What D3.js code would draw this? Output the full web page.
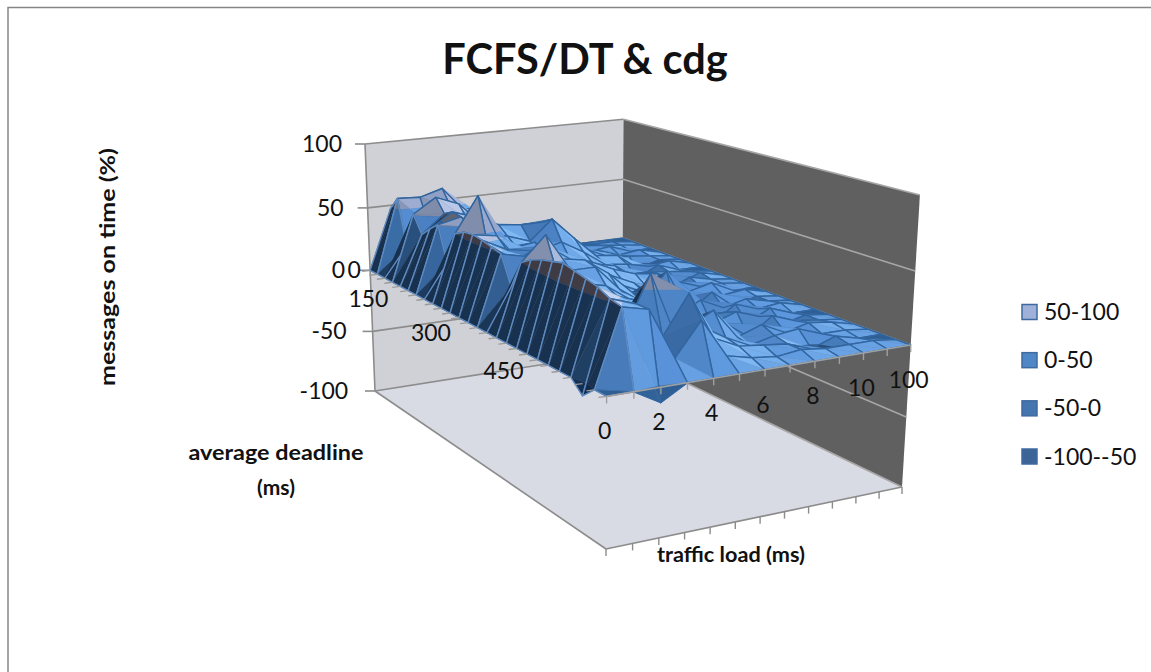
<!DOCTYPE html>
<html>
<head>
<meta charset="utf-8">
<script src="https://cdn.jsdelivr.net/npm/d3@7"></script>
<style>
  html, body { margin: 0; padding: 0; background: #fff; }
  text { font-family: Lato, "Open Sans", sans-serif; fill: #111; }
</style>
</head>
<body>
<div id="main"></div>
<script>
var WIDTH = 1151, HEIGHT = 672;

var titleText = "FCFS/DT & cdg";
var zTicks = [100, 50, 0, -50, -100];
var trafficTicks = ["0", "", "2", "", "4", "", "6", "", "8", "", "10", "", "100"];
var deadlineTicks = ["0", "", "", "", "", "", "", "150", "", "", "", "", "", "", "300", "", "", "", "", "", "", "450", "", "", "", ""];
var bands = ["50-100", "0-50", "-50-0", "-100--50"];
var bandSwatch = ["#9fb1d8", "#4f86c6", "#4575ae", "#3d6496"];

// messages on time, one row per traffic load, one value per deadline
var load0  = [0,0,0,0,0,0,0,0,0,0,0,0,0,0,0,0,0,0,0,0,0,0,0,-8,0,0];
var load1  = [47,58,23,51,38,45,51,25,50,54,55,54,52,50,30,50,55,58,60,62,60,58,56,52,50,0];
var load2  = [40,57,38,62,52,56,55,50,76,40,52,45,40,46,48,67,45,42,44,46,34,20,25,46,46,-10];
var load3  = [30,62,50,55,46,50,40,42,35,38,30,42,48,50,45,40,34,28,30,34,30,32,60,22,12,0];
var load4  = [20,42,46,38,40,42,36,30,32,40,34,36,40,38,42,40,30,26,20,22,18,20,16,48,34,0];
var load5  = [12,30,28,30,32,40,30,26,24,30,28,32,26,28,30,22,18,20,16,10,14,16,20,16,8,0];
var load6  = [8,20,22,24,26,40,45,30,18,22,24,18,20,16,14,10,8,14,6,8,12,25,10,8,4,0];
var load7  = [4,10,14,18,22,24,28,20,14,12,16,10,12,8,10,30,2,-2,8,6,10,4,2,6,2,0];
var load8  = [2,6,8,12,10,14,12,8,10,6,10,4,-2,8,4,-2,10,-4,8,12,-2,10,6,4,4,0];
var load9  = [0,4,6,4,8,6,10,6,-2,6,8,-3,8,4,-4,10,2,8,-2,6,10,2,8,-2,2,0];
var load10 = [0,2,4,6,2,4,-3,2,6,4,-2,6,2,8,2,-3,6,2,6,-2,4,6,2,4,2,0];
var load11 = [0,2,2,0,4,2,2,4,0,2,4,2,2,0,4,2,2,4,0,2,2,4,2,0,2,0];
var load12 = [0,0,0,0,0,0,0,0,0,0,0,0,0,0,0,0,0,0,0,0,0,0,0,0,0,0];
var surface = [load0,load1,load2,load3,load4,load5,load6,load7,load8,load9,load10,load11,load12];

var uScale = d3.scaleLinear().domain([0, trafficTicks.length - 1]).range([0, 1]);
var vScale = d3.scaleLinear().domain([0, deadlineTicks.length - 1]).range([0, 1]);
var zScale = d3.scaleLinear().domain([-100, 100]).range([0, 1]);

// box corners; perspective terms fitted by hand
var P000 = [375, 391], P100 = [622, 352], P010 = [606, 549], P001 = [365, 144];
var PA = 0.0658, PB = -0.2278, PC = -0.045;
function basis(p, k){ return [(1 + k) * p[0] - P000[0], (1 + k) * p[1] - P000[1]]; }
var AX = basis(P100, PA), BX = basis(P010, PB), CX = basis(P001, PC);
function project(u, v, z){
  var w = 1 + PA * u + PB * v + PC * z;
  return [(P000[0] + AX[0] * u + BX[0] * v + CX[0] * z) / w,
          (P000[1] + AX[1] * u + BX[1] * v + CX[1] * z) / w];
}
function pathOf(pts){ return "M" + pts.map(function(p){ return p[0].toFixed(1) + "," + p[1].toFixed(1); }).join("L") + "Z"; }
function line(a, b){ return "M" + a[0].toFixed(1) + "," + a[1].toFixed(1) + "L" + b[0].toFixed(1) + "," + b[1].toFixed(1); }

var svg = d3.select("#main").append("svg").attr("width", WIDTH).attr("height", HEIGHT).style("display", "block");

// chart frame, only top and left show
svg.append("path").attr("d", "M1151,7.5H8V672").attr("fill", "none").attr("stroke", "#868686").attr("stroke-width", 1.5);

// walls and floor
svg.append("path").attr("d", pathOf([project(0,0,0), project(0,1,0), project(1,1,0), project(1,0,0)])).attr("fill", "#d8dae4");
svg.append("path").attr("d", pathOf([project(0,0,0), project(0,0,1), project(1,0,1), project(1,0,0)])).attr("fill", "#d0d1d6");
svg.append("path").attr("d", pathOf([project(1,0,0), project(1,0,1), project(1,1,1), project(1,1,0)])).attr("fill", "#606060");

zTicks.forEach(function(t){
  var z = zScale(t);
  svg.append("path").attr("d", line(project(0,0,z), project(1,0,z))).attr("stroke", "#8c8c8c").attr("stroke-width", 1.6).attr("fill", "none");
  svg.append("path").attr("d", line(project(1,0,z), project(1,1,z))).attr("stroke", "#a6a6a6").attr("stroke-width", 1.6).attr("fill", "none");
  var a = project(0,0,z);
  svg.append("path").attr("d", line([a[0] - 10, a[1]], a)).attr("stroke", "#8c8c8c").attr("stroke-width", 1.6);
  svg.append("text").attr("x", 342 + (a[1] - 144) * 0.025).attr("y", a[1] + 8).attr("text-anchor", "end").attr("font-size", 23).text(t);
});
svg.append("path").attr("d", line(project(0,0,0), project(0,0,1))).attr("stroke", "#8c8c8c").attr("stroke-width", 1.6);
svg.append("path").attr("d", line(project(0,0,0), project(0,1,0))).attr("stroke", "#8c8c8c").attr("stroke-width", 1.6);
svg.append("path").attr("d", line(project(0,1,0), project(1,1,0))).attr("stroke", "#8c8c8c").attr("stroke-width", 1.6);

// floor ticks under the traffic axis
trafficTicks.forEach(function(t, i){
  var a = project(uScale(i), 1, 0);
  svg.append("path").attr("d", line(a, [a[0], a[1] + 7])).attr("stroke", "#8c8c8c").attr("stroke-width", 1.4);
});

// surface
var TONE_STOPS = [-0.6, 0.05, 0.5, 0.95];
var ramps = [
  d3.scaleLinear().domain(TONE_STOPS).range(["#3f3b45", "#6a7284", "#8f9fc4", "#cad8f6"]).clamp(true),
  d3.scaleLinear().domain(TONE_STOPS).range(["#17314f", "#3a6ba5", "#5a94da", "#86bff8"]).clamp(true),
  d3.scaleLinear().domain(TONE_STOPS).range(["#10294a", "#1e4470", "#2f5f95", "#3a6ba5"]).clamp(true),
  d3.scaleLinear().domain(TONE_STOPS).range(["#0d2038", "#1f3f68", "#31588a", "#47709f"]).clamp(true)
];
var bandEdges = [[50, 100], [0, 50], [-50, 0], [-100, -50]];
var LIGHT = [0.72, 0.5, 0.48];

function toneOf(a, b, c){
  // a,b,c are [u,v,value]
  var ux = b[0]-a[0], uy = (b[1]-a[1])*0.85, uz = (b[2]-a[2])/120,
      vx = c[0]-a[0], vy = (c[1]-a[1])*0.85, vz = (c[2]-a[2])/120;
  var nx = uy*vz-uz*vy, ny = uz*vx-ux*vz, nz = ux*vy-uy*vx;
  if(nz < 0){ nx=-nx; ny=-ny; nz=-nz; }
  var len = Math.sqrt(nx*nx+ny*ny+nz*nz) || 1;
  return (nx*LIGHT[0]+ny*LIGHT[1]+nz*LIGHT[2])/len;
}
// keep the part of a polygon on one side of a value level
function clipLevel(poly, level, above){
  var out = [];
  poly.forEach(function(p, k){
    var q = poly[(k + 1) % poly.length];
    var pIn = above ? p[2] >= level : p[2] <= level;
    var qIn = above ? q[2] >= level : q[2] <= level;
    if(pIn) out.push(p);
    if(pIn !== qIn){
      var t = (level - p[2]) / (q[2] - p[2]);
      out.push([p[0] + (q[0]-p[0])*t, p[1] + (q[1]-p[1])*t, level]);
    }
  });
  return out;
}
function vert(i, j){ return [uScale(i), vScale(j), surface[i][j]]; }
function scr(p){ return project(p[0], p[1], zScale(p[2])); }

var gSurface = svg.append("g");
// far cells first so near cells paint over them
for(var j = 0; j < deadlineTicks.length - 1; j++){
  for(var i = trafficTicks.length - 2; i >= 0; i--){
    var a = vert(i, j), b = vert(i+1, j), c = vert(i+1, j+1), d = vert(i, j+1);
    [[b,c,a],[a,c,d]].forEach(function(tri){
      var s = toneOf(tri[0], tri[1], tri[2]);
      bandEdges.forEach(function(edge, k){
        var part = clipLevel(clipLevel(tri, edge[0], true), edge[1], false);
        if(part.length < 3) return;
        var col = ramps[k](s);
        gSurface.append("path").attr("d", pathOf(part.map(scr))).attr("fill", col).attr("stroke", col).attr("stroke-width", 0.4);
      });
    });
    gSurface.append("path").attr("d", pathOf([a,b,c,d].map(scr))).attr("fill", "none")
      .attr("stroke", i === 0 ? "#5f8abf" : "#31659f").attr("stroke-width", 1.4).attr("stroke-linejoin", "round");
  }
}

// deadline axis ticks and labels, drawn on the z=0 edge
deadlineTicks.forEach(function(t, j){
  var a = project(0, vScale(j), 0.5);
  svg.append("path").attr("d", line([a[0] - 8, a[1] + 1], a)).attr("stroke", "#9a9a9a").attr("stroke-width", 1.4);
  if(t) svg.append("text").attr("x", a[0] - (j === 0 ? 16 : 56)).attr("y", a[1] + 8).attr("text-anchor", "middle").attr("font-size", 23).text(t);
});
// traffic axis at z=0
svg.append("path").attr("d", line(project(0,1,0.5), project(1,1,0.5))).attr("stroke", "#a0a0a0").attr("stroke-width", 1.6);
trafficTicks.forEach(function(t, i){
  var a = project(uScale(i), 1, 0.5);
  svg.append("path").attr("d", line(a, [a[0], a[1] + 7])).attr("stroke", "#a0a0a0").attr("stroke-width", 1.4);
  if(t) svg.append("text").attr("x", a[0] - 2).attr("y", a[1] + 43).attr("text-anchor", "middle").attr("font-size", 23).text(t);
});

// titles
svg.append("text").attr("x", 585).attr("y", 74).attr("text-anchor", "middle").attr("font-size", 41.5).attr("font-weight", 700).text(titleText);
svg.append("text").attr("transform", "translate(115,267) rotate(-90)").attr("text-anchor", "middle").attr("font-size", 21)
  .attr("font-weight", 700).attr("textLength", 238).attr("lengthAdjust", "spacingAndGlyphs").text("messages on time (%)");
svg.append("text").attr("x", 276).attr("y", 460).attr("text-anchor", "middle").attr("font-size", 21)
  .attr("font-weight", 700).attr("textLength", 175).attr("lengthAdjust", "spacingAndGlyphs").text("average deadline");
svg.append("text").attr("x", 276).attr("y", 495).attr("text-anchor", "middle").attr("font-size", 21).attr("font-weight", 700).text("(ms)");
svg.append("text").attr("x", 731).attr("y", 562).attr("text-anchor", "middle").attr("font-size", 21)
  .attr("font-weight", 700).attr("textLength", 148).attr("lengthAdjust", "spacingAndGlyphs").text("traffic load (ms)");

// legend
var legendY = d3.scalePoint().domain(bands).range([312, 456.5]);
var legend = svg.selectAll(".legend").data(bands).enter().append("g").attr("class", "legend")
  .attr("transform", function(d){ return "translate(1022," + legendY(d) + ")"; });
legend.append("rect").attr("x", 0).attr("y", -7.5).attr("width", 15).attr("height", 15)
  .attr("fill", function(d, i){ return bandSwatch[i]; }).attr("stroke", "#3e6aa0").attr("stroke-width", 1.5);
legend.append("text").attr("x", 22).attr("y", 8).attr("font-size", 23).text(function(d){ return d; });
</script>
</body>
</html>
